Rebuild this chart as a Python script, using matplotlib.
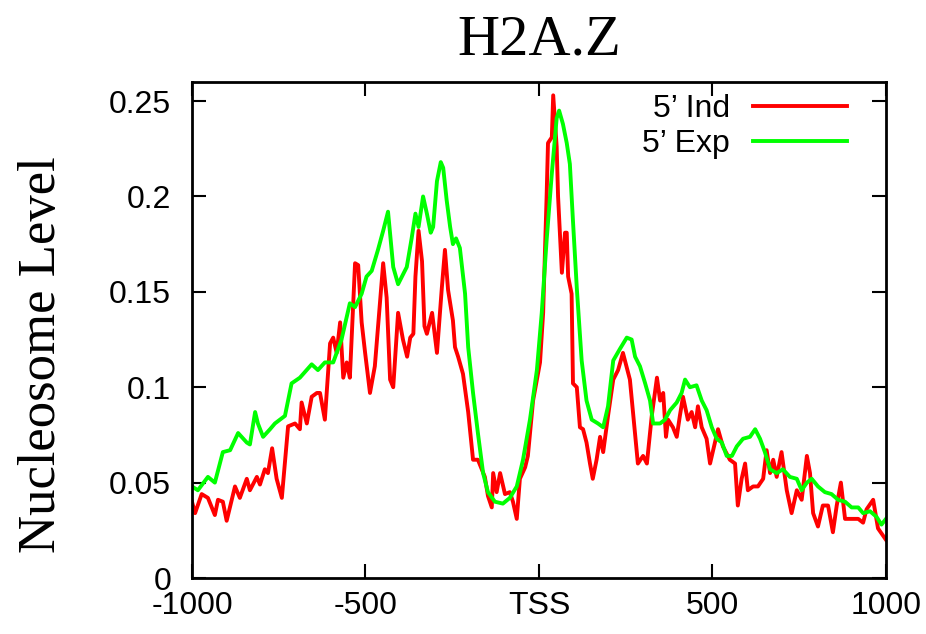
#!/usr/bin/env python
"""H2A.Z nucleosome level around the TSS, 5' Ind vs 5' Exp."""

import matplotlib
matplotlib.use("Agg")
import matplotlib.pyplot as plt

# --- data ---
ind_x = [-1000, -991, -972, -954, -934, -925, -911, -900, -876, -862, -842, -833, -813, -804,
         -790, -781, -769, -756, -741, -723, -703, -689, -684, -669, -655, -640, -631, -617,
         -602, -593, -583, -573, -564, -554, -545, -530, -521, -511, -501, -487, -473, -449,
         -439, -429, -420, -406, -392, -380, -371, -362, -356, -347, -337, -330, -323, -308,
         -294, -280, -271, -262, -248, -242, -233, -219, -204, -190, -176, -156, -147, -136,
         -132, -122, -112, -98, -84, -75, -64, -55, -40, -32, -17, 3, 12, 22, 26, 37, 41, 51,
         55, 66, 75, 80, 84, 94, 98, 109, 118, 127, 137, 147, 155, 166, 176, 185, 199, 214,
         228, 242, 262, 271, 285, 300, 311, 325, 340, 349, 358, 366, 372, 386, 397, 406, 415,
         429, 440, 450, 458, 469, 483, 493, 507, 516, 530, 550, 565, 573, 584, 594, 602, 617,
         631, 646, 656, 666, 675, 685, 699, 714, 728, 743, 757, 772, 781, 790, 804, 818, 833,
         847, 858, 870, 882, 901, 920, 934, 944, 963, 977, 1000]
ind_y = [0.040, 0.034, 0.044, 0.042, 0.033, 0.041, 0.040, 0.030, 0.048, 0.042, 0.052, 0.046,
         0.053, 0.049, 0.057, 0.055, 0.068, 0.052, 0.042, 0.0795, 0.081, 0.078, 0.092, 0.081,
         0.095, 0.097, 0.097, 0.083, 0.123, 0.126, 0.118, 0.134, 0.105, 0.113, 0.105, 0.165,
         0.164, 0.134, 0.118, 0.097, 0.111, 0.165, 0.147, 0.104, 0.100, 0.139, 0.125, 0.116,
         0.126, 0.128, 0.158, 0.182, 0.166, 0.132, 0.128, 0.139, 0.118, 0.152, 0.172, 0.151,
         0.135, 0.121, 0.116, 0.107, 0.087, 0.062, 0.062, 0.053, 0.043, 0.037, 0.055, 0.045,
         0.055, 0.044, 0.045, 0.040, 0.031, 0.052, 0.058, 0.064, 0.093, 0.113, 0.139, 0.200,
         0.228, 0.231, 0.253, 0.226, 0.200, 0.160, 0.181, 0.181, 0.158, 0.149, 0.102, 0.100,
         0.079, 0.078, 0.071, 0.060, 0.052, 0.062, 0.074, 0.066, 0.085, 0.104, 0.109, 0.118,
         0.104, 0.087, 0.060, 0.064, 0.060, 0.085, 0.105, 0.093, 0.097, 0.074, 0.083, 0.079,
         0.074, 0.085, 0.095, 0.083, 0.087, 0.079, 0.090, 0.079, 0.073, 0.060, 0.071, 0.078,
         0.069, 0.062, 0.060, 0.038, 0.052, 0.060, 0.046, 0.048, 0.048, 0.052, 0.067, 0.055,
         0.062, 0.053, 0.066, 0.046, 0.034, 0.046, 0.041, 0.064, 0.055, 0.034, 0.027, 0.038,
         0.038, 0.024, 0.038, 0.050, 0.031, 0.031, 0.031, 0.029, 0.036, 0.041, 0.026, 0.020]

exp_x = [-1000, -983, -954, -934, -911, -890, -867, -842, -833, -818, -810, -795, -775, -761,
         -732, -713, -689, -655, -637, -617, -593, -569, -545, -530, -511, -497, -482, -464,
         -449, -435, -420, -406, -381, -367, -356, -347, -334, -323, -312, -305, -294, -283,
         -276, -266, -256, -248, -239, -228, -213, -204, -190, -176, -161, -147, -127, -104,
         -84, -64, -46, -26, -6, 8, 22, 37, 51, 58, 69, 80, 89, 98, 109, 123, 137, 152, 170,
         185, 199, 214, 233, 253, 267, 277, 291, 306, 320, 329, 349, 363, 378, 397, 411, 421,
         435, 454, 469, 483, 498, 512, 527, 541, 556, 570, 588, 608, 623, 637, 651, 666, 685,
         703, 723, 743, 757, 772, 786, 804, 824, 843, 862, 882, 901, 920, 934, 954, 973, 987,
         1000]
exp_y = [0.048, 0.046, 0.053, 0.050, 0.066, 0.067, 0.076, 0.071, 0.070, 0.087, 0.081, 0.074,
         0.078, 0.081, 0.085, 0.102, 0.105, 0.112, 0.109, 0.113, 0.113, 0.125, 0.144, 0.142,
         0.149, 0.158, 0.161, 0.172, 0.182, 0.192, 0.163, 0.154, 0.163, 0.178, 0.191, 0.184,
         0.200, 0.191, 0.181, 0.184, 0.208, 0.218, 0.215, 0.198, 0.184, 0.175, 0.178, 0.173,
         0.149, 0.121, 0.097, 0.076, 0.055, 0.045, 0.040, 0.039, 0.042, 0.048, 0.062, 0.083,
         0.109, 0.139, 0.177, 0.212, 0.241, 0.245, 0.238, 0.228, 0.217, 0.187, 0.152, 0.114,
         0.093, 0.083, 0.081, 0.079, 0.090, 0.114, 0.120, 0.126, 0.125, 0.116, 0.111, 0.102,
         0.093, 0.081, 0.081, 0.083, 0.088, 0.092, 0.097, 0.104, 0.100, 0.101, 0.093, 0.088,
         0.079, 0.073, 0.071, 0.064, 0.064, 0.069, 0.073, 0.074, 0.078, 0.073, 0.066, 0.057,
         0.055, 0.057, 0.053, 0.052, 0.046, 0.050, 0.052, 0.048, 0.045, 0.044, 0.041, 0.040,
         0.037, 0.037, 0.034, 0.035, 0.032, 0.028, 0.031]

xticks = [-1000, -500, 0, 500, 1000]
xticklabels = ["-1000", "-500", "TSS", "500", "1000"]
yticks = [0, 0.05, 0.1, 0.15, 0.2, 0.25]
yticklabels = ["0", "0.05", "0.1", "0.15", "0.2", "0.25"]

SANS = "Liberation Sans"
SERIF = "Liberation Serif"

fig = plt.figure(figsize=(9.26, 6.34), dpi=100)
ax = fig.add_axes([0.2073, 0.0883, 0.7495, 0.7824])

ax.plot(ind_x, ind_y, color="#ff0000", linewidth=2.8, label="5\u2019 Ind")
ax.plot(exp_x, exp_y, color="#00ff00", linewidth=2.8, label="5\u2019 Exp")

ax.set_xlim(-1000, 1000)
ax.set_ylim(0, 0.26)
ax.set_xticks(xticks)
ax.set_xticklabels(xticklabels)
ax.set_yticks(yticks)
ax.set_yticklabels(yticklabels)
for lab in ax.get_xticklabels() + ax.get_yticklabels():
    lab.set_fontfamily(SANS)
    lab.set_fontsize(23)

ax.tick_params(direction="in", length=10, width=1.5, top=True, right=True)
ax.tick_params(axis="y", pad=15)
ax.tick_params(axis="x", pad=9)
for s in ax.spines.values():
    s.set_linewidth(2)

ax.set_title("H2A.Z", family=SERIF, fontsize=42, pad=20)
ax.set_ylabel("Nucleosome Level", family=SERIF, fontsize=38)
ax.yaxis.set_label_coords(-0.181, 0.45)

leg = ax.legend(loc="upper right", bbox_to_anchor=(0.944, 0.975), markerfirst=False,
                frameon=False, borderpad=0, borderaxespad=0, handlelength=2.95,
                handletextpad=0.72, labelspacing=0.15, prop={"family": SANS, "size": 23})
for t in leg.get_texts():
    t.set_ha("right")

fig.savefig("out.png", dpi=100)
print("Saved: out.png")
